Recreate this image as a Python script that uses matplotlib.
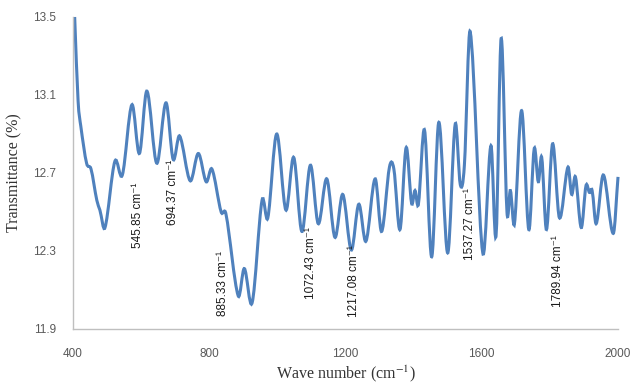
import numpy as np
import matplotlib
matplotlib.use("Agg")
import matplotlib.pyplot as plt
from matplotlib.path import Path
from matplotlib.patches import PathPatch

plt.rcParams["mathtext.fontset"] = "stix"

# peak / trough readings of the spectrum (wave number, transmittance)
wave = [405, 415, 423, 440, 453, 470, 479, 494, 523, 545, 573, 595, 617, 646,
        673, 694, 713, 744, 768, 791, 808, 835, 849, 885, 903, 926, 955, 972,
        998, 1025, 1048, 1072, 1097, 1120, 1145, 1169, 1192, 1217, 1239, 1260,
        1287, 1306, 1329, 1342, 1360, 1378, 1394, 1404, 1414, 1432, 1453, 1474,
        1500, 1522, 1537, 1549, 1566, 1603, 1627, 1642, 1657, 1674, 1684, 1696,
        1717, 1738, 1754, 1766, 1776, 1790, 1808, 1828, 1853, 1864, 1875, 1892,
        1906, 1916, 1924, 1936, 1957, 1986, 2000]
trans = [13.50, 13.07, 12.94, 12.75, 12.72, 12.56, 12.51, 12.42, 12.76, 12.69,
         13.05, 12.80, 13.12, 12.75, 13.06, 12.77, 12.89, 12.66, 12.80, 12.655,
         12.72, 12.50, 12.49, 12.07, 12.21, 12.035, 12.56, 12.47, 12.90, 12.51,
         12.78, 12.40, 12.74, 12.44, 12.67, 12.37, 12.59, 12.305, 12.54, 12.35,
         12.67, 12.40, 12.73, 12.72, 12.41, 12.83, 12.545, 12.61, 12.54, 12.92,
         12.27, 12.96, 12.29, 12.95, 12.64, 12.74, 13.425, 12.29, 12.84, 12.38,
         13.39, 12.50, 12.61, 12.44, 13.02, 12.41, 12.825, 12.655, 12.78, 12.41,
         12.85, 12.47, 12.73, 12.59, 12.68, 12.42, 12.635, 12.60, 12.61, 12.44,
         12.69, 12.39, 12.68]

# band labels: text, x position, top of text (y)
band_text = ["545.85 cm⁻¹", "694.37 cm⁻¹", "885.33 cm⁻¹", "1072.43 cm⁻¹",
             "1217.08 cm⁻¹", "1537.27 cm⁻¹", "1789.94 cm⁻¹"]
band_x = [592, 695, 841, 1098, 1224, 1565, 1824]
band_top = [12.65, 12.77, 12.30, 12.42, 12.33, 12.62, 12.38]

xticks = [400, 800, 1200, 1600, 2000]
yticks = [11.9, 12.3, 12.7, 13.1, 13.5]


def smooth_path(xs, ys):
    # cubic Hermite segments written as bezier curves (like a smoothed line)
    xs = np.asarray(xs, float)
    ys = np.asarray(ys, float)
    n = len(xs)
    m = np.zeros(n)
    m[1:-1] = (ys[2:] - ys[:-2]) / (xs[2:] - xs[:-2])
    m[0] = (ys[1] - ys[0]) / (xs[1] - xs[0])
    m[-1] = (ys[-1] - ys[-2]) / (xs[-1] - xs[-2])
    verts = [(xs[0], ys[0])]
    codes = [Path.MOVETO]
    for i in range(n - 1):
        h = xs[i + 1] - xs[i]
        verts += [(xs[i] + h / 3, ys[i] + m[i] * h / 3),
                  (xs[i + 1] - h / 3, ys[i + 1] - m[i + 1] * h / 3),
                  (xs[i + 1], ys[i + 1])]
        codes += [Path.CURVE4] * 3
    return Path(verts, codes)


fig = plt.figure(figsize=(6.34, 3.87), dpi=100)
ax = fig.add_axes([0.1151, 0.1499, 0.8597, 0.8062])

patch = PathPatch(smooth_path(wave, trans), facecolor="none",
                  edgecolor="#4F81BD", lw=2.2, capstyle="butt", clip_on=False)
ax.add_patch(patch)

for t, x, y in zip(band_text, band_x, band_top):
    ax.text(x, y, t, rotation=90, ha="center", va="top", fontsize=8.5,
            family=["Liberation Sans", "DejaVu Sans"], color="#1a1a1a")

ax.set_xlim(400, 2000)
ax.set_ylim(11.9, 13.5)
ax.set_xticks(xticks)
ax.set_yticks(yticks)
ax.set_xticklabels([str(v) for v in xticks])
ax.set_yticklabels(["%.1f" % v for v in yticks])
ax.tick_params(length=0, labelsize=8.5, labelcolor="#595959")
ax.tick_params(axis="x", pad=14)
ax.tick_params(axis="y", pad=12)
for lab in ax.get_xticklabels() + ax.get_yticklabels():
    lab.set_family("Liberation Sans")

for side in ["top", "right"]:
    ax.spines[side].set_visible(False)
for side in ["left", "bottom"]:
    ax.spines[side].set_color("#BFBFBF")
    ax.spines[side].set_linewidth(1.0)

ax.set_xlabel("Wave number (cm$^{-1}$)", family=["Liberation Serif", "DejaVu Serif"],
              fontsize=11.5, color="#333333", labelpad=2)
ax.set_ylabel("Transmittance (%)", family=["Liberation Serif", "DejaVu Serif"],
              fontsize=11.5, color="#333333", labelpad=8)

fig.savefig("out.png", dpi=100)
